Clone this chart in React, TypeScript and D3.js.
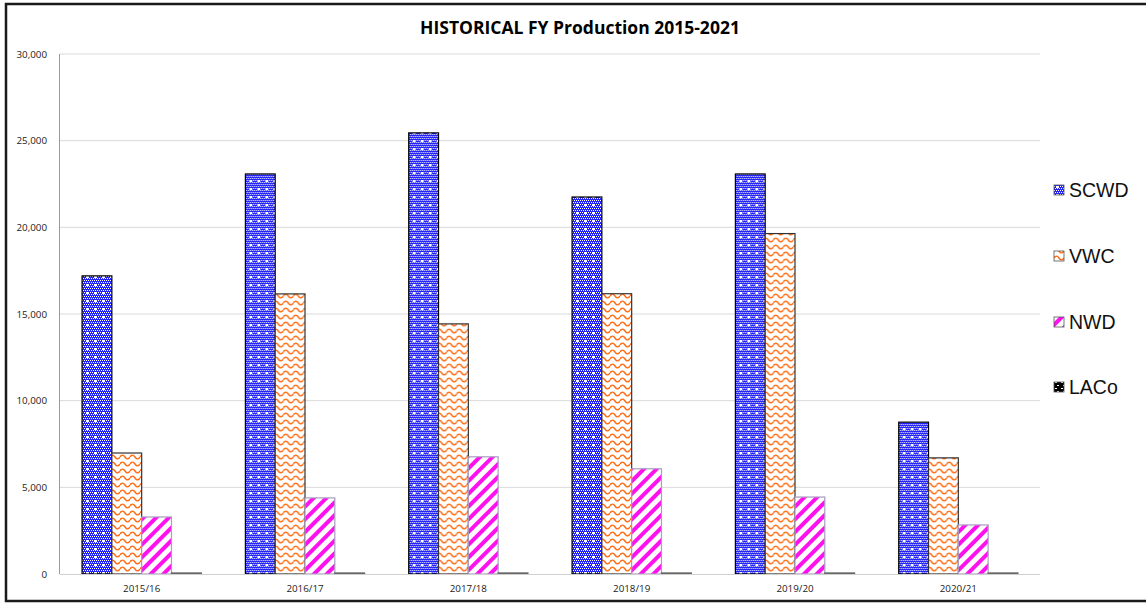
import React from 'react';
import * as d3 from 'd3';

const years = ['2015/16', '2016/17', '2017/18', '2018/19', '2019/20', '2020/21'];
const seriesNames = ['SCWD', 'VWC', 'NWD', 'LACo'];
const scwd = [17200, 23080, 25450, 21750, 23080, 8760];
const vwc = [6980, 16160, 14430, 16170, 19640, 6700];
const nwd = [3290, 4390, 6760, 6070, 4440, 2830];
const laco = [60, 60, 60, 60, 60, 60];
const yTicks = [0, 5000, 10000, 15000, 20000, 25000, 30000];

const W = 1146;
const H = 605;
const left = 60;
const right = 1040;
const top = 54;
const bottom = 574;

const strokes: Record<string, string> = {
  SCWD: '#000000',
  VWC: '#333333',
  NWD: '#a89cc0',
  LACo: '#666666',
};

// small checker dots for SCWD
const scwdDots: [number, number][] = [];
for (let py = 0; py < 8; py += 2) {
  for (let px = (py / 2) % 2; px < 8; px += 2) scwdDots.push([px, py]);
}

const wave = 'M0,2 C1.7,-0.5 3.3,-0.5 5,2 C6.7,4.5 8.3,4.5 10,2';

const Patterns = () => (
  <defs>
    <pattern id="p-SCWD" width="8" height="8" patternUnits="userSpaceOnUse">
      <rect width="8" height="8" fill="#2424f8" />
      {scwdDots.map(([px, py], i) => (
        <rect key={i} x={px} y={py} width="1" height="1" fill="#ffffff" />
      ))}
      <rect x="2" y="5" width="3" height="1" fill="#ffffff" />
      <rect x="3" y="4" width="1" height="3" fill="#ffffff" />
    </pattern>
    <pattern id="p-VWC" width="10" height="7" patternUnits="userSpaceOnUse">
      <rect width="10" height="7" fill="#ffffff" />
      {[-7, 0, 7].map((dy) => (
        <path key={dy} d={wave} transform={`translate(0,${dy})`} fill="none" stroke="#ff6a10" strokeWidth="1.4" />
      ))}
    </pattern>
    <pattern id="p-NWD" width="9" height="9" patternUnits="userSpaceOnUse" patternTransform="rotate(45)">
      <rect width="9" height="9" fill="#ffffff" />
      <rect x="0" y="0" width="4" height="9" fill="#ff10ee" />
    </pattern>
    <pattern id="p-LACo" width="6" height="6" patternUnits="userSpaceOnUse">
      <rect width="6" height="6" fill="#000000" />
      <rect x="1" y="1" width="2" height="1" fill="#ffffff" />
      <rect x="3" y="4" width="2" height="1" fill="#ffffff" />
    </pattern>
  </defs>
);

export default function App() {
  const seriesValues: Record<string, number[]> = { SCWD: scwd, VWC: vwc, NWD: nwd, LACo: laco };

  const x0 = d3.scaleBand<string>().domain(years).range([left, right]).padding(0);
  const x1 = d3
    .scaleBand<string>()
    .domain(seriesNames)
    .range([x0.bandwidth() * 0.135, x0.bandwidth() * 0.865])
    .padding(0);
  const y = d3.scaleLinear().domain([0, 30000]).range([bottom, top]);
  const fmt = d3.format(',');

  const legendY = [190, 256, 322, 387];

  return (
    <svg width={W} height={H} style={{ position: 'absolute', left: 0, top: 0, background: '#fff' }}>
      <Patterns />
      <rect x={6} y={4} width={W + 10} height={597} fill="#ffffff" stroke="#1a1a1a" strokeWidth={2.5} />

      <text x={580} y={34} textAnchor="middle" fontFamily="'Open Sans', sans-serif" fontWeight="bold" fontSize={17.5} fill="#000">
        HISTORICAL FY Production 2015-2021
      </text>

      {/* gridlines + y labels */}
      {yTicks.map((t) => (
        <g key={t}>
          {t > 0 && <line x1={left} x2={right} y1={y(t)} y2={y(t)} stroke="#d9d9d9" strokeWidth={1} />}
          <text x={47} y={y(t) + 3.5} textAnchor="end" fontFamily="'Open Sans', sans-serif" fontSize={9.8} fill="#222">
            {fmt(t)}
          </text>
        </g>
      ))}
      <line x1={left - 0.5} x2={left - 0.5} y1={top} y2={bottom} stroke="#9a9a9a" />

      {/* bars */}
      {years.map((yr, i) => (
        <g key={yr} transform={`translate(${x0(yr)},0)`}>
          {seriesNames.map((s) => {
            const v = seriesValues[s][i];
            return (
              <rect
                key={s}
                x={x1(s)!}
                y={y(v)}
                width={x1.bandwidth()}
                height={bottom - y(v)}
                fill={`url(#p-${s})`}
                stroke={strokes[s]}
                strokeWidth={1.2}
              />
            );
          })}
          <text
            x={x0.bandwidth() / 2}
            y={592}
            textAnchor="middle"
            fontFamily="'Open Sans', sans-serif"
            fontSize={9.8}
            fill="#222"
          >
            {yr}
          </text>
        </g>
      ))}
      <line x1={left} x2={right} y1={bottom + 0.5} y2={bottom + 0.5} stroke="#d0d0d0" />

      {/* legend */}
      {seriesNames.map((s, i) => (
        <g key={s} transform={`translate(1054,${legendY[i]})`}>
          <rect x={0} y={-5} width={10} height={10} fill={`url(#p-${s})`} stroke="#555" strokeWidth={0.8} />
          <text x={15} y={7} fontFamily="'Liberation Sans', Arial, sans-serif" fontSize={19.5} fill="#111">
            {s}
          </text>
        </g>
      ))}
    </svg>
  );
}
